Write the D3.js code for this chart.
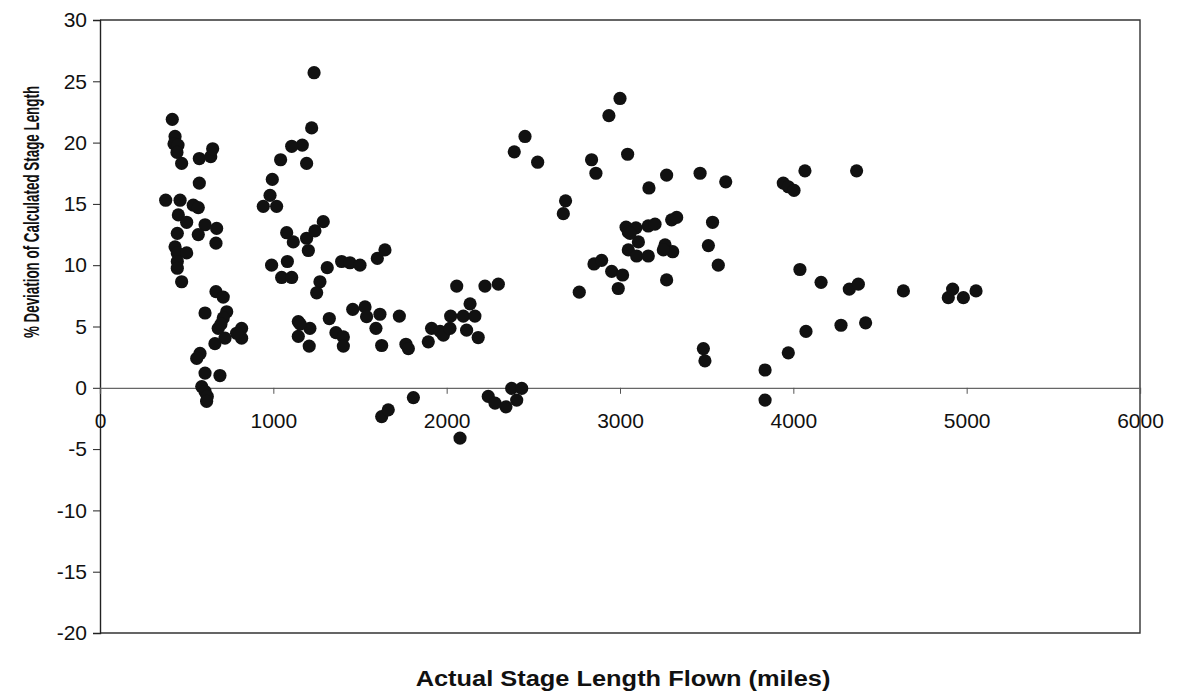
<!DOCTYPE html>
<html>
<head>
<meta charset="utf-8">
<script src="https://cdn.jsdelivr.net/npm/d3@7"></script>
<style>
  html, body { margin: 0; padding: 0; background: #fff; }
  svg { display: block; }
</style>
</head>
<body>
<svg id="chart" width="1177" height="692"></svg>
<script>
// Actual stage length flown (miles)
const stageLength = [
  379, 417, 433, 427, 450, 444, 471, 462, 452, 500, 446, 433, 446, 500, 446, 446, 471,
  538, 567, 573, 573, 639, 650, 606, 673, 567, 669, 669, 711, 606, 731, 711, 682, 721,
  663, 817, 817, 788, 577, 558, 606, 692, 587, 606, 619, 615, 698,
  1235, 1221, 1167, 1106, 1042, 1192, 994, 981, 942, 1019, 1077, 1115, 1192, 1240, 1288,
  1202, 990, 1081, 1048, 1106, 1311, 1394, 1442, 1500, 1269, 1250, 1600, 1644,
  1144, 1144, 1211, 1207, 1155, 1323, 1361, 1404, 1404, 1458, 1529, 1538, 1615, 1592, 1625,
  1727, 1765, 1779, 1808, 1625, 1663, 1894, 1913, 1962, 1981, 2019, 2023, 2058, 2077,
  2096, 2135, 2163, 2115, 2182, 2221, 2298, 2240, 2279, 2342, 2375, 2404, 2433,
  2390, 2452, 2525, 2686, 2673, 2765, 2836, 2861, 2936, 3000, 3044, 2850, 2894, 2952, 3015, 2990,
  3035, 3092, 3163, 3202, 3298, 3327, 3048, 3106, 3048, 3096, 3163, 3260, 3304, 3250, 3269,
  3269, 3167, 3058, 3462, 3610, 3534, 3510, 3567, 3481, 3490,
  3942, 3971, 4004, 4067, 4365, 4038, 4160, 4323, 4375, 4635, 4894, 4919, 4981, 5054,
  4275, 4417, 4073, 3971, 3837, 3837
];
// % deviation of calculated stage length
const deviation = [
  15.3, 21.9, 20.5, 19.9, 19.8, 19.2, 18.3, 15.3, 14.1, 13.5, 12.6, 11.5, 11.0, 11.0, 10.3, 9.75, 8.65,
  14.9, 14.7, 18.7, 16.7, 18.85, 19.5, 13.3, 13.0, 12.5, 11.8, 7.85, 7.4, 6.1, 6.2, 5.7, 4.85, 4.05,
  3.6, 4.85, 4.05, 4.45, 2.8, 2.4, 1.2, 1.0, 0.1, -0.3, -0.7, -1.1, 5.2,
  25.7, 21.2, 19.8, 19.7, 18.6, 18.3, 17.0, 15.7, 14.8, 14.8, 12.65, 11.9, 12.2, 12.8, 13.55,
  11.2, 10.0, 10.3, 9.0, 9.0, 9.8, 10.3, 10.2, 10.0, 8.65, 7.75, 10.55, 11.25,
  5.4, 4.2, 4.85, 3.4, 5.2, 5.65, 4.5, 4.15, 3.4, 6.4, 6.6, 5.8, 6.0, 4.85, 3.45,
  5.85, 3.55, 3.2, -0.8, -2.35, -1.8, 3.75, 4.85, 4.6, 4.3, 4.85, 5.85, 8.3, -4.1,
  5.85, 6.85, 5.85, 4.7, 4.1, 8.3, 8.45, -0.7, -1.25, -1.55, -0.05, -1.0, -0.05,
  19.25, 20.5, 18.4, 15.25, 14.2, 7.8, 18.6, 17.5, 22.2, 23.6, 19.05, 10.1, 10.4, 9.5, 9.2, 8.1,
  13.1, 13.05, 13.2, 13.35, 13.7, 13.9, 12.7, 11.9, 11.25, 10.75, 10.75, 11.65, 11.1, 11.25, 8.8,
  17.35, 16.3, 12.6, 17.5, 16.8, 13.5, 11.6, 10.0, 3.2, 2.2,
  16.7, 16.4, 16.1, 17.7, 17.7, 9.65, 8.6, 8.05, 8.45, 7.9, 7.35, 8.05, 7.35, 7.9,
  5.1, 5.3, 4.6, 2.85, 1.45, -1.0
];
const xTicks = [0, 1000, 2000, 3000, 4000, 5000, 6000];
const yTicks = [30, 25, 20, 15, 10, 5, 0, -5, -10, -15, -20];
const xTitle = "Actual Stage Length Flown (miles)";
const yTitle = "% Deviation of Calculated Stage Length";

const svg = d3.select("#chart");
const plotLeft = 100, plotRight = 1140, plotTop = 20, plotBottom = 633;

const x = d3.scaleLinear().domain([0, 6000]).range([plotLeft, plotRight]);
const y = d3.scaleLinear().domain([-20, 30]).range([plotBottom, plotTop]);

const points = stageLength.map((v, i) => ({x: v, y: deviation[i]}));
const plainFormat = d => String(d);

// plot frame (top, right, bottom)
svg.append("path")
  .attr("d", `M${plotLeft},${plotTop}H${plotRight}V${plotBottom}H${plotLeft}`)
  .attr("fill", "none")
  .attr("stroke", "#333")
  .attr("stroke-width", 1.4);

// left y axis
const yAxis = d3.axisLeft(y).tickValues(yTicks).tickSize(7).tickPadding(6).tickFormat(plainFormat);
const gy = svg.append("g").attr("transform", `translate(${plotLeft},0)`).call(yAxis);
gy.select(".domain").attr("stroke", "#222").attr("stroke-width", 1.4);
gy.selectAll(".tick line").attr("stroke", "#222");
gy.selectAll("text")
  .attr("font-family", "Liberation Sans, Arial, sans-serif")
  .attr("font-size", 21)
  .attr("fill", "#111");

// x axis at y = 0
const xAxis = d3.axisBottom(x).tickValues(xTicks).tickSize(6).tickPadding(19).tickFormat(plainFormat);
const gx = svg.append("g").attr("transform", `translate(0,${y(0)})`).call(xAxis);
gx.select(".domain").attr("stroke", "#666").attr("stroke-width", 1.3);
gx.selectAll(".tick line").attr("stroke", "#555");
gx.selectAll("text")
  .attr("font-family", "Liberation Sans, Arial, sans-serif")
  .attr("font-size", 21)
  .attr("fill", "#111");

// points
svg.append("g")
  .selectAll("circle")
  .data(points)
  .join("circle")
  .attr("cx", d => x(d.x))
  .attr("cy", d => y(d.y))
  .attr("r", 6.6)
  .attr("fill", "#111");

// titles
svg.append("text")
  .attr("transform", "translate(623,686) scale(1.27,1.1)")
  .attr("text-anchor", "middle")
  .attr("font-family", "Liberation Sans, Arial, sans-serif")
  .attr("font-weight", "bold")
  .attr("font-size", 20)
  .attr("fill", "#111")
  .text(xTitle);

svg.append("text")
  .attr("transform", "translate(39,212) rotate(-90) scale(1,1.65)")
  .attr("text-anchor", "middle")
  .attr("font-family", "Liberation Sans, Arial, sans-serif")
  .attr("font-weight", "bold")
  .attr("font-size", 13.4)
  .attr("fill", "#111")
  .text(yTitle);
</script>
</body>
</html>
